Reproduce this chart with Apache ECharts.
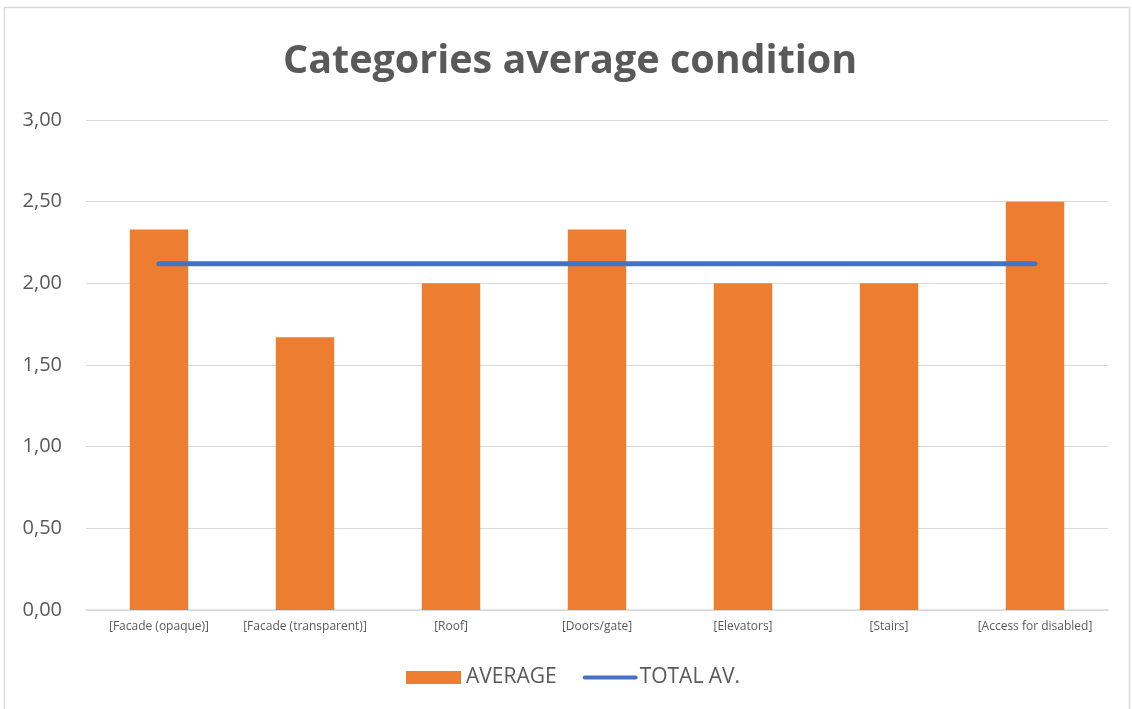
<!DOCTYPE html>
<html>
<head>
<meta charset="utf-8">
<script src="https://cdn.jsdelivr.net/npm/echarts@6/dist/echarts.min.js"></script>
<style>
  html, body { margin: 0; padding: 0; background: #fff; }
  #chart { width: 1132px; height: 709px; }
</style>
</head>
<body>
<div id="chart"></div>
<script>
// Condition categories and their scores
const categories = [
  '[Facade (opaque)]',
  '[Facade (transparent)]',
  '[Roof]',
  '[Doors/gate]',
  '[Elevators]',
  '[Stairs]',
  '[Access for disabled]'
];
const averageValues = [2.33, 1.67, 2.00, 2.33, 2.00, 2.00, 2.50];
const totalAverage = [2.12, 2.12, 2.12, 2.12, 2.12, 2.12, 2.12];

const chart = echarts.init(document.getElementById('chart'));
const fmt = v => v.toFixed(2).replace('.', ',');

chart.setOption({
  animation: false,
  backgroundColor: '#fff',
  textStyle: { fontFamily: 'Open Sans' },
  title: {
    text: 'Categories average condition',
    left: 278,
    top: 37,
    textStyle: { fontFamily: 'Open Sans', fontWeight: 'bold', fontSize: 39.5, color: '#595959' }
  },
  graphic: [{
    type: 'rect',
    shape: { x: 4.5, y: 7.5, width: 1125, height: 710 },
    style: { fill: 'none', stroke: '#d9d9d9', lineWidth: 1.5 },
    silent: true
  }],
  legend: {
    bottom: 16,
    left: 401,
    itemGap: 26,
    itemWidth: 55,
    itemHeight: 13,
    textStyle: { fontSize: 21, color: '#595959' },
    data: [
      { name: 'AVERAGE', icon: 'rect' },
      { name: 'TOTAL AV.', icon: 'path://M2,0 H52 A2,2 0 0 1 52,4 H2 A2,2 0 0 1 2,0 Z', itemStyle: { color: '#4472C4' }, textStyle: { padding: [0, 0, 0, -3] } }
    ]
  },
  grid: { left: 86, right: 24, top: 120, bottom: 99, containLabel: false },
  xAxis: {
    type: 'category',
    data: categories,
    axisLine: { lineStyle: { color: '#d9d9d9', width: 1.5 } },
    axisTick: { show: false },
    axisLabel: { fontSize: 12, color: '#595959', margin: 11, interval: 0 }
  },
  yAxis: {
    type: 'value',
    min: 0,
    max: 3,
    interval: 0.5,
    axisLine: { show: false },
    axisTick: { show: false },
    splitLine: { lineStyle: { color: '#d9d9d9', width: 1 } },
    axisLabel: { fontSize: 20, color: '#595959', margin: 24, formatter: fmt }
  },
  series: [
    {
      name: 'AVERAGE',
      type: 'bar',
      data: averageValues,
      barWidth: '40%',
      itemStyle: { color: '#ED7D31' }
    },
    {
      name: 'TOTAL AV.',
      type: 'line',
      data: totalAverage,
      symbol: 'none',
      lineStyle: { color: '#4472C4', width: 5, cap: 'round' },
      itemStyle: { color: '#4472C4' }
    }
  ]
});
</script>
</body>
</html>
